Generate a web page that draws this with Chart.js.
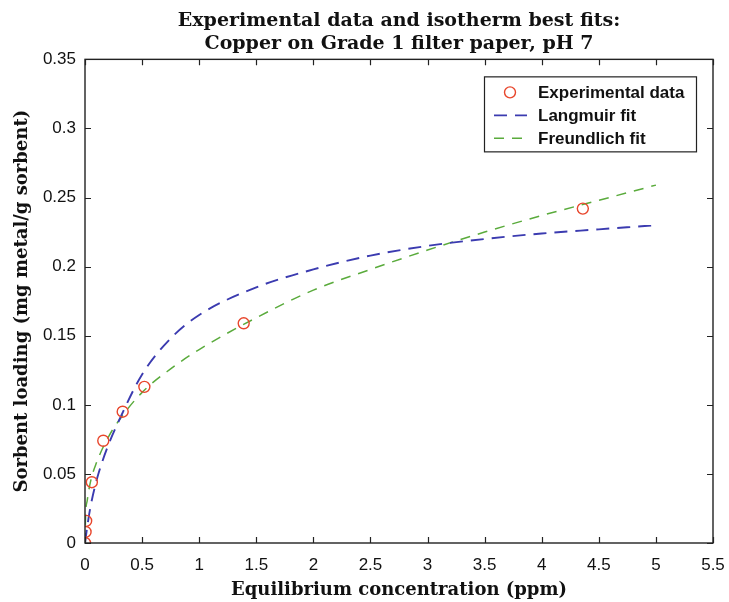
<!DOCTYPE html>
<html>
<head>
<meta charset="utf-8">
<script src="https://cdn.jsdelivr.net/npm/chart.js"></script>
<style>
  html, body { margin: 0; padding: 0; background: #fff; }
  #wrap { width: 729px; height: 602px; }
</style>
</head>
<body>
<div id="wrap"><canvas id="isoChart"></canvas></div>
<script>
const expX = [0, 0.005, 0.01, 0.06, 0.16, 0.33, 0.52, 1.39, 4.36];
const expY = [0, 0.008, 0.016, 0.044, 0.074, 0.095, 0.113, 0.159, 0.242];

// Langmuir fit curve, read at these concentrations
const langX = [0, 0.02, 0.05, 0.1, 0.2, 0.3, 0.5, 0.75, 1, 1.5, 2, 2.5, 3, 3.5, 4, 4.5, 5];
const langY = [0, 0.012, 0.027, 0.045, 0.070, 0.089, 0.122, 0.148, 0.165, 0.185, 0.198, 0.208, 0.215, 0.220, 0.224, 0.227, 0.230];

// Freundlich fit curve
const freuX = [0, 0.005, 0.02, 0.05, 0.1, 0.2, 0.3, 0.5, 0.75, 1, 1.5, 2, 2.5, 3, 3.5, 4, 4.5, 5];
const freuY = [0, 0.019, 0.031, 0.045, 0.058, 0.076, 0.089, 0.109, 0.126, 0.140, 0.163, 0.183, 0.198, 0.212, 0.225, 0.237, 0.248, 0.259];

// Tick labels
const xTickLabels = ['0', '0.5', '1', '1.5', '2', '2.5', '3', '3.5', '4', '4.5', '5', '5.5'];
const yTickLabels = ['0', '0.05', '0.1', '0.15', '0.2', '0.25', '0.3', '0.35'];

const toPoints = (xs, ys) => xs.map((x, i) => ({ x: x, y: ys[i] }));

const RED = '#e8462c';
const BLUE = '#3b3bb0';
const GREEN = '#5aab3c';
const SANS = '"Liberation Sans", Arial, sans-serif';
const SERIF = '"DejaVu Serif", serif';

// Box round the plot with ticks pointing inward on all four sides
const boxTicks = {
    id: 'boxTicks',
    afterDatasetsDraw(chart) {
        const ctx = chart.ctx;
        const a = chart.chartArea;
        const xs = chart.scales.x, ys = chart.scales.y;
        ctx.save();
        ctx.strokeStyle = '#222';
        ctx.lineWidth = 1.4;
        ctx.strokeRect(a.left, a.top, a.right - a.left, a.bottom - a.top);
        const len = 6;
        ctx.lineWidth = 1.2;
        ctx.beginPath();
        xs.ticks.forEach(t => {
            const px = Math.round(xs.getPixelForValue(t.value)) + 0.5;
            ctx.moveTo(px, a.bottom); ctx.lineTo(px, a.bottom - len);
            ctx.moveTo(px, a.top); ctx.lineTo(px, a.top + len);
        });
        ys.ticks.forEach(t => {
            const py = Math.round(ys.getPixelForValue(t.value)) + 0.5;
            ctx.moveTo(a.left, py); ctx.lineTo(a.left + len, py);
            ctx.moveTo(a.right, py); ctx.lineTo(a.right - len, py);
        });
        ctx.stroke();
        ctx.restore();
    }
};

// Legend drawn inside the plot, top right
const insideLegend = {
    id: 'insideLegend',
    afterDraw(chart) {
        const ctx = chart.ctx;
        const a = chart.chartArea;
        const w = 212, h = 75;
        const left = a.right - 17 - w, top = a.top + 17;
        ctx.save();
        ctx.fillStyle = '#fff';
        ctx.fillRect(left, top, w, h);
        ctx.strokeStyle = '#222';
        ctx.lineWidth = 1.2;
        ctx.strokeRect(left + 0.5, top + 0.5, w, h);
        ctx.font = 'bold 17px ' + SANS;
        ctx.textBaseline = 'middle';
        chart.data.datasets.forEach((ds, i) => {
            const cy = top + 16 + i * 23;
            if (ds.showLine) {
                ctx.strokeStyle = ds.borderColor;
                ctx.lineWidth = ds.borderWidth;
                ctx.setLineDash(ds.borderDash);
                ctx.beginPath();
                ctx.moveTo(left + 10, cy); ctx.lineTo(left + 43, cy);
                ctx.stroke();
                ctx.setLineDash([]);
            } else {
                ctx.strokeStyle = ds.pointBorderColor;
                ctx.lineWidth = ds.pointBorderWidth;
                ctx.beginPath();
                ctx.arc(left + 26, cy, 5.5, 0, Math.PI * 2);
                ctx.stroke();
            }
            ctx.fillStyle = '#111';
            ctx.fillText(ds.label, left + 54, cy + 1);
        });
        ctx.restore();
    }
};

new Chart(document.getElementById('isoChart'), {
    type: 'scatter',
    data: {
        datasets: [
            {
                label: 'Experimental data',
                data: toPoints(expX, expY),
                showLine: false,
                pointRadius: 5.5,
                pointBorderWidth: 1.4,
                pointBorderColor: RED,
                pointBackgroundColor: 'rgba(0,0,0,0)',
                order: 0
            },
            {
                label: 'Langmuir fit',
                data: toPoints(langX, langY),
                showLine: true,
                borderColor: BLUE,
                borderWidth: 1.9,
                borderDash: [13, 8],
                pointRadius: 0,
                cubicInterpolationMode: 'monotone',
                order: 1
            },
            {
                label: 'Freundlich fit',
                data: toPoints(freuX, freuY),
                showLine: true,
                borderColor: GREEN,
                borderWidth: 1.5,
                borderDash: [10, 8],
                pointRadius: 0,
                cubicInterpolationMode: 'monotone',
                order: 2
            }
        ]
    },
    options: {
        responsive: true,
        maintainAspectRatio: false,
        animation: false,
        layout: { padding: { left: 0, right: 16, top: 0, bottom: 0 } },
        plugins: {
            legend: { display: false },
            tooltip: { enabled: false },
            title: {
                display: true,
                fullSize: false,
                text: ['Experimental data and isotherm best fits:', 'Copper on Grade 1 filter paper, pH 7'],
                color: '#111',
                font: { family: SERIF, weight: 'bold', size: 19, lineHeight: 1.22 },
                padding: { top: 9, bottom: 4 }
            }
        },
        scales: {
            x: {
                type: 'linear',
                min: 0,
                max: 5.5,
                grid: { display: false, drawTicks: false },
                border: { display: false },
                ticks: {
                    stepSize: 0.5,
                    color: '#111',
                    font: { family: SANS, size: 17 },
                    padding: 12,
                    maxRotation: 0,
                    callback: (v, i) => xTickLabels[i]
                },
                title: {
                    display: true,
                    text: 'Equilibrium concentration (ppm)',
                    color: '#111',
                    font: { family: SERIF, weight: 'bold', size: 18 },
                    padding: { top: 0, bottom: 1 }
                },
                afterFit: s => { s.height = 59; s.paddingLeft = 0; s.paddingRight = 0; }
            },
            y: {
                type: 'linear',
                min: 0,
                max: 0.35,
                grid: { display: false, drawTicks: false },
                border: { display: false },
                ticks: {
                    stepSize: 0.05,
                    color: '#111',
                    font: { family: SANS, size: 17 },
                    padding: 9,
                    callback: (v, i) => yTickLabels[i]
                },
                title: {
                    display: true,
                    text: 'Sorbent loading (mg metal/g sorbent)',
                    color: '#111',
                    font: { family: SERIF, weight: 'bold', size: 18 },
                    padding: { top: 12, bottom: 0 }
                },
                afterFit: s => { s.width = 85; s.paddingTop = 0; s.paddingBottom = 0; }
            }
        }
    },
    plugins: [boxTicks, insideLegend]
});
</script>
</body>
</html>
